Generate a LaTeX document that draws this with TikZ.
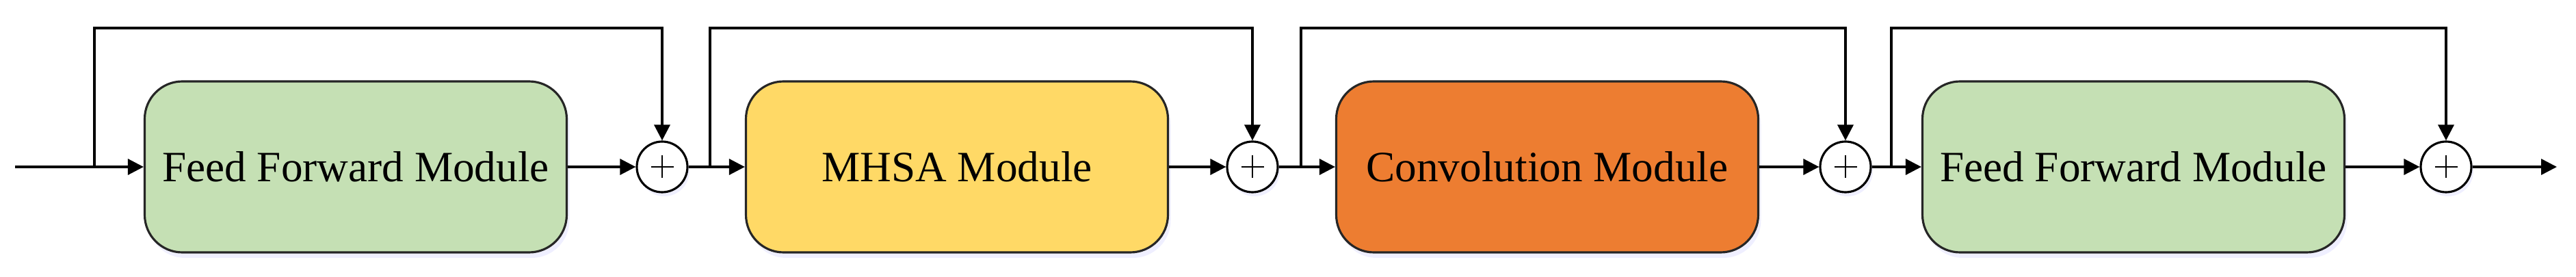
\documentclass[tikz,border=0pt]{standalone}
\usepackage{fontspec}
\setmainfont{Liberation Serif}
\usetikzlibrary{arrows.meta,shadows}

\definecolor{ffgreen}{HTML}{C5E0B4}
\definecolor{mhsayellow}{HTML}{FFD966}
\definecolor{convorange}{HTML}{ED7D31}

\tikzset{
  module/.style={draw=black!85, line width=0.9pt, rounded corners=5.5mm,
    minimum width=6.17cm, minimum height=2.5cm, inner sep=0pt,
    font=\fontsize{18}{20}\selectfont,
    drop shadow={shadow xshift=0.4mm, shadow yshift=-0.8mm, fill=blue!12, opacity=0.5}},
  sumnode/.style={circle, draw=black, line width=0.9pt, fill=white,
    minimum size=7.4mm, inner sep=0pt,
    drop shadow={shadow xshift=0.3mm, shadow yshift=-0.6mm, fill=blue!12, opacity=0.5},
    path picture={
      \draw[line width=0.7pt] ([xshift=-1.65mm]path picture bounding box.center) -- ++(3.3mm,0);
      \draw[line width=0.7pt] ([yshift=-1.65mm]path picture bounding box.center) -- ++(0,3.3mm);
    }},
  arr/.style={-{Triangle[length=2.3mm,width=2.3mm]}},
  conn/.style={line width=1pt}
}

\begin{document}
\begin{tikzpicture}
  \useasboundingbox (0,0) rectangle (37.66,4.04);

  % modules
  \node[module, fill=ffgreen] (ff1) at (5.20,1.60) {Feed Forward Module};
  \node[module, fill=mhsayellow] (mhsa) at (13.99,1.60) {MHSA Module};
  \node[module, fill=convorange] (conv) at (22.62,1.60) {Convolution Module};
  \node[module, fill=ffgreen] (ff2) at (31.19,1.60) {Feed Forward Module};

  % residual adders
  \node[sumnode] (sum1) at (9.68,1.60) {};
  \node[sumnode] (sum2) at (18.31,1.60) {};
  \node[sumnode] (sum3) at (26.98,1.60) {};
  \node[sumnode] (sum4) at (35.76,1.60) {};

  % branch points
  \coordinate (in) at (0.22,1.60);
  \coordinate (br0) at (1.38,1.60);
  \coordinate (br1) at (10.38,1.60);
  \coordinate (br2) at (19.02,1.60);
  \coordinate (br3) at (27.65,1.60);
  \coordinate (out) at (37.38,1.60);

  % main path
  \draw[conn] (in) -- (br0);
  \draw[conn, arr] (br0) -- (ff1);
  \draw[conn, arr] (ff1) -- (sum1);
  \draw[conn] (sum1) -- (br1);
  \draw[conn, arr] (br1) -- (mhsa);
  \draw[conn, arr] (mhsa) -- (sum2);
  \draw[conn] (sum2) -- (br2);
  \draw[conn, arr] (br2) -- (conv);
  \draw[conn, arr] (conv) -- (sum3);
  \draw[conn] (sum3) -- (br3);
  \draw[conn, arr] (br3) -- (ff2);
  \draw[conn, arr] (ff2) -- (sum4);
  \draw[conn, arr] (sum4) -- (out);

  % skip connections
  \foreach \b/\s in {br0/sum1, br1/sum2, br2/sum3, br3/sum4} {
    \draw[conn, arr] (\b) -- (\b |- 0,3.63) -| (\s.north);
  }
\end{tikzpicture}
\end{document}
